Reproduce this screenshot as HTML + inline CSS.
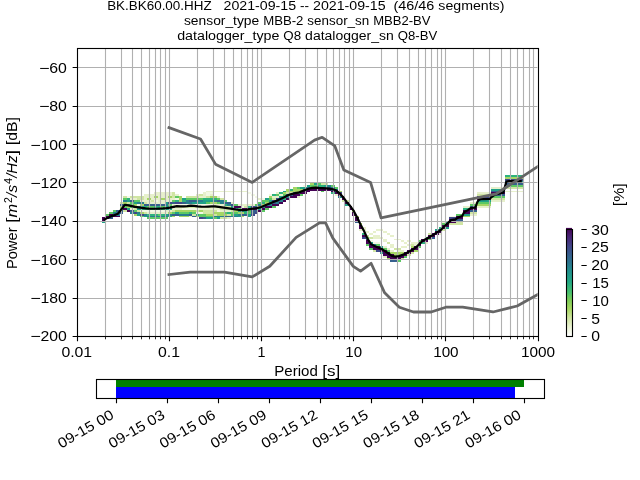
<!DOCTYPE html>
<html><head><meta charset="utf-8"><title>PPSD BK.BK60.00.HHZ</title>
<style>
html,body{margin:0;padding:0;background:#fff;overflow:hidden}
svg{display:block;will-change:transform}
text{font-family:"Liberation Sans",sans-serif;fill:#000}
</style></head><body>
<svg width="640" height="480" viewBox="0 0 640 480">
<rect width="640" height="480" fill="#fff"/>
<defs><linearGradient id="cbg" x1="0" y1="1" x2="0" y2="0"><stop offset="0.0000" stop-color="#ffffff"/><stop offset="0.0830" stop-color="#eaf2d2"/><stop offset="0.1667" stop-color="#cfe4a0"/><stop offset="0.2500" stop-color="#a8d863"/><stop offset="0.3330" stop-color="#7ccc57"/><stop offset="0.4000" stop-color="#4ac16d"/><stop offset="0.5000" stop-color="#22a884"/><stop offset="0.6000" stop-color="#21908d"/><stop offset="0.6670" stop-color="#2a788e"/><stop offset="0.7500" stop-color="#355f8d"/><stop offset="0.8330" stop-color="#414487"/><stop offset="0.9170" stop-color="#482475"/><stop offset="1.0000" stop-color="#440154"/></linearGradient><clipPath id="axclip"><rect x="76.8" y="48.0" width="460.8" height="288.0"/></clipPath></defs>
<g clip-path="url(#axclip)">
<g shape-rendering="crispEdges">
<path fill="#f3f8e4" d="M127 196h3v2h-3zM255 196h3v2h-3zM137 204h3v2h-3zM175 204h38v2h-38zM140 210h25v2h-25zM217 210h3v2h-3zM154 200h4v2h-4zM175 198h4v2h-4zM262 198h3v2h-3zM182 208h17v2h-17zM196 212h7v2h-7zM206 192h7v2h-7zM248 192h3v2h-3zM206 194h4v2h-4zM251 194h4v2h-4zM269 194h3v2h-3zM241 206h3v2h-3zM303 185h4v2h-4zM369 240h4v2h-4zM373 242h7v2h-7zM449 216h7v1h-7z"/>
<path fill="#e7f0cc" d="M130 198h7v2h-7zM144 198h3v2h-3zM151 198h10v2h-10zM165 198h10v2h-10zM258 198h4v2h-4zM130 208h4v2h-4zM172 208h10v2h-10zM199 208h21v2h-21zM140 200h11v2h-11zM158 200h14v2h-14zM491 200h14v2h-14zM144 194h28v2h-28zM175 194h4v2h-4zM196 194h3v2h-3zM203 194h3v2h-3zM210 194h3v2h-3zM279 194h4v2h-4zM335 194h3v2h-3zM144 196h10v2h-10zM158 196h10v2h-10zM199 196h7v2h-7zM217 196h3v2h-3zM272 196h7v2h-7zM297 196h3v2h-3zM147 202h18v2h-18zM231 202h3v2h-3zM470 202h7v2h-7zM147 212h21v2h-21zM154 192h18v2h-18zM203 192h3v2h-3zM276 192h3v2h-3zM477 192h14v2h-14zM165 210h7v2h-7zM220 210h11v2h-11zM172 204h3v2h-3zM213 204h11v2h-11zM238 204h17v2h-17zM189 216h3v1h-3zM206 191h42v1h-42zM505 191h18v1h-18zM227 217h4v2h-4zM359 229h7v2h-7zM376 229h7v2h-7zM362 227h4v2h-4zM366 231h3v2h-3zM373 231h3v2h-3zM383 231h4v2h-4zM369 233h4v2h-4zM387 233h3v2h-3zM439 233h3v2h-3zM373 235h7v2h-7zM390 235h4v2h-4zM373 237h10v2h-10zM383 239h4v1h-4zM394 239h7v1h-7zM383 240h4v2h-4zM401 240h3v2h-3zM407 240h4v2h-4zM383 246h4v2h-4zM390 246h4v2h-4zM401 246h6v2h-6zM383 256h4v2h-4zM387 248h3v2h-3zM390 244h4v2h-4zM407 244h4v2h-4zM414 244h4v2h-4zM390 250h4v2h-4zM397 250h7v2h-7zM404 242h3v2h-3zM411 242h7v2h-7zM425 242h3v2h-3zM442 221h4v2h-4zM463 206h7v2h-7zM477 206h14v2h-14zM470 214h7v2h-7zM491 187h14v2h-14z"/>
<path fill="#d0e5a3" d="M120 202h3v2h-3zM127 202h3v2h-3zM144 202h3v2h-3zM123 196h4v2h-4zM130 196h14v2h-14zM172 196h3v2h-3zM186 196h13v2h-13zM206 196h4v2h-4zM123 210h4v2h-4zM137 210h3v2h-3zM172 210h3v2h-3zM196 210h3v2h-3zM203 210h14v2h-14zM231 210h3v2h-3zM134 208h3v2h-3zM220 208h11v2h-11zM137 198h7v2h-7zM220 198h4v2h-4zM272 198h4v2h-4zM491 198h14v2h-14zM144 212h3v2h-3zM203 212h10v2h-10zM470 212h7v2h-7zM151 200h3v2h-3zM342 200h7v2h-7zM172 192h3v2h-3zM286 192h7v2h-7zM172 194h3v2h-3zM199 194h4v2h-4zM477 194h14v2h-14zM175 206h56v2h-56zM244 206h4v2h-4zM192 214h4v2h-4zM213 214h4v2h-4zM227 214h4v2h-4zM220 217h7v2h-7zM321 183h7v2h-7zM366 235h3v2h-3zM369 237h4v2h-4zM373 250h3v2h-3zM387 242h3v2h-3zM394 248h7v2h-7zM401 258h3v2h-3zM407 254h4v2h-4zM411 244h3v2h-3zM411 252h3v2h-3zM428 233h4v2h-4zM442 229h4v2h-4zM449 223h14v2h-14zM456 221h7v2h-7zM505 187h18v2h-18z"/>
<path fill="#a6d665" d="M120 206h3v2h-3zM127 206h3v2h-3zM258 206h4v2h-4zM123 202h4v2h-4zM210 202h7v2h-7zM265 202h4v2h-4zM134 204h3v2h-3zM140 204h4v2h-4zM262 204h3v2h-3zM477 204h14v2h-14zM134 214h3v2h-3zM206 214h7v2h-7zM217 214h10v2h-10zM140 212h4v2h-4zM168 212h4v2h-4zM213 212h11v2h-11zM238 212h6v2h-6zM147 198h4v2h-4zM161 198h4v2h-4zM179 198h3v2h-3zM154 196h4v2h-4zM168 196h4v2h-4zM179 196h3v2h-3zM210 196h7v2h-7zM269 196h3v2h-3zM172 216h3v1h-3zM179 216h10v1h-10zM196 216h3v1h-3zM241 216h3v1h-3zM355 216h4v1h-4zM463 216h7v1h-7zM175 210h21v2h-21zM199 210h4v2h-4zM234 210h4v2h-4zM352 210h3v2h-3zM179 200h3v2h-3zM283 192h3v2h-3zM286 189h4v2h-4zM293 189h10v2h-10zM286 191h14v1h-14zM338 191h4v1h-4zM293 187h4v2h-4zM310 183h4v2h-4zM359 223h3v2h-3zM387 258h3v2h-3zM390 252h14v2h-14zM394 254h7v2h-7zM411 246h3v2h-3zM414 250h4v2h-4zM505 177h18v2h-18z"/>
<path fill="#5cc863" d="M106 214h3v2h-3zM158 214h3v2h-3zM199 214h7v2h-7zM231 214h3v2h-3zM456 214h7v2h-7zM109 212h4v2h-4zM172 212h3v2h-3zM179 212h10v2h-10zM192 212h4v2h-4zM224 212h3v2h-3zM231 212h7v2h-7zM248 212h3v2h-3zM113 210h3v2h-3zM134 210h3v2h-3zM248 210h3v2h-3zM262 210h3v2h-3zM120 208h3v2h-3zM231 208h3v2h-3zM238 208h3v2h-3zM265 208h4v2h-4zM123 198h4v2h-4zM186 198h17v2h-17zM217 198h3v2h-3zM269 198h3v2h-3zM123 206h4v2h-4zM130 206h4v2h-4zM147 206h7v2h-7zM161 206h4v2h-4zM272 206h4v2h-4zM130 202h4v2h-4zM206 202h4v2h-4zM217 202h3v2h-3zM258 202h4v2h-4zM477 202h14v2h-14zM130 204h4v2h-4zM168 204h4v2h-4zM234 204h4v2h-4zM255 204h3v2h-3zM470 204h7v2h-7zM134 200h6v2h-6zM172 200h3v2h-3zM224 200h3v2h-3zM262 200h7v2h-7zM140 216h4v1h-4zM199 216h14v1h-14zM147 217h21v2h-21zM213 217h4v2h-4zM175 196h4v2h-4zM491 196h14v2h-14zM276 194h3v2h-3zM283 194h3v2h-3zM300 194h3v2h-3zM297 187h3v2h-3zM335 187h3v2h-3zM310 185h7v2h-7zM331 185h4v2h-4zM505 185h18v2h-18zM317 183h4v2h-4zM321 191h3v1h-3zM366 237h3v2h-3zM366 244h3v2h-3zM376 244h4v2h-4zM369 248h4v2h-4zM383 248h4v2h-4zM387 250h3v2h-3zM397 260h4v2h-4zM404 256h3v2h-3zM418 240h3v2h-3zM418 246h3v2h-3zM428 239h4v1h-4zM442 223h4v2h-4z"/>
<path fill="#2db27d" d="M127 198h3v2h-3zM203 198h14v2h-14zM283 198h3v2h-3zM144 206h3v2h-3zM154 206h7v2h-7zM248 206h3v2h-3zM144 208h21v2h-21zM463 208h7v2h-7zM147 214h11v2h-11zM161 214h4v2h-4zM168 216h4v1h-4zM175 200h4v2h-4zM182 200h4v2h-4zM189 212h3v2h-3zM227 212h4v2h-4zM244 212h4v2h-4zM224 204h3v2h-3zM262 202h3v2h-3zM272 194h4v2h-4zM279 192h4v2h-4zM331 192h4v2h-4zM290 189h3v2h-3zM317 185h7v2h-7zM362 233h4v2h-4zM421 242h4v2h-4zM425 237h3v2h-3zM439 227h3v2h-3zM505 175h18v2h-18z"/>
<path fill="#1fa187" d="M102 221h4v2h-4zM446 221h3v2h-3zM127 200h3v2h-3zM203 200h10v2h-10zM269 200h3v2h-3zM477 200h14v2h-14zM127 204h3v2h-3zM345 204h4v2h-4zM127 208h3v2h-3zM137 208h7v2h-7zM165 208h7v2h-7zM258 208h4v2h-4zM134 202h3v2h-3zM165 202h3v2h-3zM192 202h14v2h-14zM137 206h7v2h-7zM165 206h10v2h-10zM231 206h3v2h-3zM137 214h3v2h-3zM165 214h3v2h-3zM196 214h3v2h-3zM234 214h4v2h-4zM248 214h3v2h-3zM463 214h7v2h-7zM144 216h3v1h-3zM238 216h3v1h-3zM248 216h3v1h-3zM175 212h4v2h-4zM182 198h4v2h-4zM265 198h4v2h-4zM206 217h7v2h-7zM217 217h3v2h-3zM238 210h10v2h-10zM279 196h4v2h-4zM283 191h3v1h-3zM300 187h7v2h-7zM307 185h3v2h-3zM324 185h4v2h-4zM314 183h3v2h-3zM369 242h4v2h-4zM380 246h3v2h-3zM380 252h3v2h-3zM435 229h4v2h-4zM446 227h3v2h-3zM491 189h14v2h-14zM505 181h18v2h-18z"/>
<path fill="#277f8e" d="M113 212h7v2h-7zM130 212h4v2h-4zM137 212h3v2h-3zM113 214h7v2h-7zM144 214h3v2h-3zM168 214h4v2h-4zM179 214h10v2h-10zM238 214h3v2h-3zM123 200h4v2h-4zM186 200h3v2h-3zM196 200h7v2h-7zM213 200h4v2h-4zM220 200h4v2h-4zM279 200h4v2h-4zM123 204h4v2h-4zM165 204h3v2h-3zM227 204h4v2h-4zM258 204h4v2h-4zM265 204h7v2h-7zM134 206h3v2h-3zM262 206h3v2h-3zM137 202h7v2h-7zM186 202h6v2h-6zM220 202h4v2h-4zM269 202h3v2h-3zM276 202h3v2h-3zM147 216h21v1h-21zM213 216h11v1h-11zM231 216h7v1h-7zM234 208h4v2h-4zM286 196h4v2h-4zM338 196h4v2h-4zM328 185h3v2h-3zM331 187h4v2h-4zM335 189h3v2h-3zM373 244h3v2h-3z"/>
<path fill="#355f8d" d="M109 217h4v2h-4zM203 217h3v2h-3zM116 210h7v2h-7zM130 210h4v2h-4zM251 210h7v2h-7zM470 210h7v2h-7zM120 204h3v2h-3zM144 204h21v2h-21zM120 212h3v2h-3zM251 212h4v2h-4zM130 200h4v2h-4zM189 200h7v2h-7zM217 200h3v2h-3zM276 200h3v2h-3zM172 202h3v2h-3zM182 202h4v2h-4zM224 202h7v2h-7zM272 202h4v2h-4zM172 214h7v2h-7zM189 214h3v2h-3zM241 214h7v2h-7zM192 216h4v1h-4zM224 216h7v1h-7zM255 206h3v2h-3zM470 206h7v2h-7zM279 198h4v2h-4zM283 196h3v2h-3zM286 194h7v2h-7zM491 194h14v2h-14zM293 192h7v2h-7zM300 191h3v1h-3zM335 191h3v1h-3zM491 191h14v1h-14zM303 189h4v2h-4zM331 189h4v2h-4zM307 187h24v2h-24zM355 221h4v2h-4zM366 239h3v1h-3zM390 260h7v2h-7zM432 237h3v2h-3zM456 219h7v2h-7zM505 183h18v2h-18z"/>
<path fill="#3f4889" d="M134 212h3v2h-3zM255 212h3v2h-3zM140 214h4v2h-4zM251 214h4v2h-4zM168 202h4v2h-4zM175 202h7v2h-7zM199 217h4v2h-4zM449 217h7v2h-7zM231 204h3v2h-3zM251 206h4v2h-4zM272 200h4v2h-4zM276 198h3v2h-3zM338 192h4v2h-4zM362 237h4v2h-4zM376 250h4v2h-4zM477 196h14v2h-14zM505 179h18v2h-18z"/>
<path fill="#440154" d="M102 217h7v2h-7zM355 217h4v2h-4zM456 217h7v2h-7zM102 219h4v2h-4zM355 219h4v2h-4zM449 219h7v2h-7zM106 216h14v1h-14zM456 216h7v1h-7zM109 214h4v2h-4zM352 214h3v2h-3zM123 208h4v2h-4zM241 208h17v2h-17zM262 208h3v2h-3zM349 208h3v2h-3zM470 208h7v2h-7zM127 210h3v2h-3zM258 210h4v2h-4zM463 210h7v2h-7zM234 206h7v2h-7zM265 206h7v2h-7zM349 206h3v2h-3zM272 204h7v2h-7zM279 202h4v2h-4zM345 202h4v2h-4zM283 200h3v2h-3zM286 198h4v2h-4zM342 198h3v2h-3zM477 198h14v2h-14zM290 196h7v2h-7zM342 196h3v2h-3zM293 194h7v2h-7zM338 194h4v2h-4zM300 192h7v2h-7zM335 192h3v2h-3zM491 192h14v2h-14zM303 191h7v1h-7zM331 191h4v1h-4zM307 189h24v2h-24zM352 212h3v2h-3zM463 212h7v2h-7zM359 225h3v2h-3zM442 225h7v2h-7zM359 227h3v2h-3zM442 227h4v2h-4zM362 235h4v2h-4zM428 235h7v2h-7zM366 240h3v2h-3zM421 240h7v2h-7zM366 242h3v2h-3zM418 242h3v2h-3zM369 244h4v2h-4zM418 244h3v2h-3zM369 246h11v2h-11zM414 246h4v2h-4zM373 248h10v2h-10zM411 248h7v2h-7zM380 250h7v2h-7zM407 250h7v2h-7zM383 252h7v2h-7zM404 252h7v2h-7zM383 254h11v2h-11zM401 254h6v2h-6zM387 256h17v2h-17zM390 258h11v2h-11zM421 239h7v1h-7zM428 237h4v2h-4zM432 233h7v2h-7zM435 231h7v2h-7zM439 229h3v2h-3zM446 223h3v2h-3zM449 221h7v2h-7z"/>
</g>
<path d="M105.5 48.0V336.0M121.5 48.0V336.0M132.5 48.0V336.0M141.5 48.0V336.0M149.5 48.0V336.0M155.5 48.0V336.0M160.5 48.0V336.0M165.5 48.0V336.0M169.5 48.0V336.0M197.5 48.0V336.0M213.5 48.0V336.0M224.5 48.0V336.0M233.5 48.0V336.0M241.5 48.0V336.0M247.5 48.0V336.0M252.5 48.0V336.0M257.5 48.0V336.0M261.5 48.0V336.0M289.5 48.0V336.0M305.5 48.0V336.0M317.5 48.0V336.0M326.5 48.0V336.0M333.5 48.0V336.0M339.5 48.0V336.0M344.5 48.0V336.0M349.5 48.0V336.0M353.5 48.0V336.0M381.5 48.0V336.0M397.5 48.0V336.0M409.5 48.0V336.0M418.5 48.0V336.0M425.5 48.0V336.0M431.5 48.0V336.0M437.5 48.0V336.0M441.5 48.0V336.0M445.5 48.0V336.0M473.5 48.0V336.0M489.5 48.0V336.0M501.5 48.0V336.0M510.5 48.0V336.0M517.5 48.0V336.0M523.5 48.0V336.0M529.5 48.0V336.0M533.5 48.0V336.0M76.8 298.5H537.6M76.8 259.5H537.6M76.8 221.5H537.6M76.8 182.5H537.6M76.8 144.5H537.6M76.8 106.5H537.6M76.8 67.5H537.6" stroke="#b0b0b0" stroke-width="1.11" fill="none"/>
<polyline points="104.54,219.45 107.50,217.90 110.97,216.30 114.44,215.10 117.91,213.80 121.37,209.40 124.84,204.75 128.31,205.40 131.78,206.10 135.25,206.90 138.71,207.30 142.18,207.90 145.65,208.30 149.12,208.60 152.59,208.75 156.05,208.75 159.52,208.60 162.99,208.40 166.46,208.10 169.93,207.60 173.39,206.85 176.86,206.20 180.33,206.40 183.80,206.40 187.27,206.10 190.73,205.60 194.20,205.90 197.67,206.40 201.14,206.70 204.61,206.75 208.07,206.60 211.54,206.45 215.01,206.40 218.48,206.90 221.95,207.40 225.41,207.90 228.88,208.40 232.35,208.90 235.82,209.50 239.29,210.00 242.75,210.06 246.22,209.80 249.69,209.10 253.16,208.60 256.63,208.20 260.09,207.40 263.56,206.00 267.03,204.60 270.50,203.20 273.97,201.80 277.43,200.40 280.90,198.80 284.37,197.20 287.84,195.20 291.31,194.10 294.77,193.20 298.24,192.70 301.71,191.30 305.18,190.00 308.65,188.70 312.11,187.90 315.58,187.60 319.05,187.95 322.52,188.10 325.99,188.40 329.45,188.70 332.92,189.30 336.39,190.60 339.86,193.60 343.33,197.40 346.79,202.20 350.26,206.10 353.73,210.90 357.20,217.50 360.67,224.70 364.13,231.20 367.60,238.90 371.07,244.10 374.54,246.00 378.01,247.40 381.47,249.00 384.94,251.10 388.41,253.50 391.88,255.90 395.35,256.60 398.81,256.10 402.28,255.00 405.75,253.40 409.22,251.50 412.69,249.50 416.15,247.30 419.62,243.80 423.09,240.50 426.56,238.80 430.03,236.60 433.49,234.70 436.96,232.40 440.43,230.40 443.90,226.80 447.37,223.60 451.00,220.10 455.40,219.40 458.50,217.25 462.25,216.00 464.10,212.25 467.90,210.10 471.00,207.90 475.40,207.60 477.25,202.25 478.50,200.20 480.25,199.20 489.60,199.00 491.50,197.00 494.60,194.80 500.90,193.30 503.30,192.60 506.40,181.60 509.00,181.20 520.70,181.20" stroke="#000" stroke-width="2.2" fill="none" stroke-linejoin="round" stroke-linecap="square"/>
<polyline points="168.96,274.56 190.20,272.06 224.45,272.06 252.19,276.86 269.73,266.30 296.16,237.41 319.50,222.91 325.54,222.91 332.83,238.08 353.28,266.40 360.58,271.20 371.08,263.29 384.66,292.80 399.33,307.20 413.48,312.00 431.16,312.00 445.84,307.20 462.72,307.20 492.98,311.98 517.15,306.01 537.60,294.68" stroke="#666666" stroke-width="2.78" fill="none" stroke-linejoin="round" stroke-linecap="square"/>
<polyline points="168.96,127.68 200.52,139.01 215.51,164.16 252.19,182.40 314.55,140.16 322.20,137.28 334.79,145.92 343.85,169.92 370.56,182.40 381.02,217.92 496.13,193.92 537.60,166.60" stroke="#666666" stroke-width="2.78" fill="none" stroke-linejoin="round" stroke-linecap="square"/>
</g>
<path d="M77.5 336.5v4.86M169.5 336.5v4.86M261.5 336.5v4.86M353.5 336.5v4.86M445.5 336.5v4.86M538.5 336.5v4.86M77.5 336.5h-4.86M77.5 298.5h-4.86M77.5 259.5h-4.86M77.5 221.5h-4.86M77.5 182.5h-4.86M77.5 144.5h-4.86M77.5 106.5h-4.86M77.5 67.5h-4.86" stroke="#000" stroke-width="1.11" fill="none"/>
<path d="M105.5 336.5v2.78M121.5 336.5v2.78M132.5 336.5v2.78M141.5 336.5v2.78M149.5 336.5v2.78M155.5 336.5v2.78M160.5 336.5v2.78M165.5 336.5v2.78M197.5 336.5v2.78M213.5 336.5v2.78M224.5 336.5v2.78M233.5 336.5v2.78M241.5 336.5v2.78M247.5 336.5v2.78M252.5 336.5v2.78M257.5 336.5v2.78M289.5 336.5v2.78M305.5 336.5v2.78M317.5 336.5v2.78M326.5 336.5v2.78M333.5 336.5v2.78M339.5 336.5v2.78M344.5 336.5v2.78M349.5 336.5v2.78M381.5 336.5v2.78M397.5 336.5v2.78M409.5 336.5v2.78M418.5 336.5v2.78M425.5 336.5v2.78M431.5 336.5v2.78M437.5 336.5v2.78M441.5 336.5v2.78M473.5 336.5v2.78M489.5 336.5v2.78M501.5 336.5v2.78M510.5 336.5v2.78M517.5 336.5v2.78M523.5 336.5v2.78M529.5 336.5v2.78M533.5 336.5v2.78" stroke="#000" stroke-width="0.83" fill="none"/>
<rect x="77.5" y="48.5" width="461.0" height="288.0" fill="none" stroke="#000" stroke-width="1.11"/>
<text y="356.72" font-size="14.31"><tspan x="61.42" textLength="30.75" lengthAdjust="spacingAndGlyphs">0.01</tspan></text>
<text y="356.72" font-size="14.31"><tspan x="157.96" textLength="22.00" lengthAdjust="spacingAndGlyphs">0.1</tspan></text>
<text y="356.72" font-size="14.31"><tspan x="257.58" textLength="7.98" lengthAdjust="spacingAndGlyphs">1</tspan></text>
<text y="356.72" font-size="14.31"><tspan x="345.37" textLength="16.72" lengthAdjust="spacingAndGlyphs">10</tspan></text>
<text y="356.72" font-size="14.31"><tspan x="433.15" textLength="25.48" lengthAdjust="spacingAndGlyphs">100</tspan></text>
<text y="356.72" font-size="14.31"><tspan x="520.94" textLength="34.22" lengthAdjust="spacingAndGlyphs">1000</tspan></text>
<text y="340.70" font-size="14.31"><tspan x="30.32" textLength="10.44" lengthAdjust="spacingAndGlyphs">−</tspan><tspan x="40.41" textLength="26.37" lengthAdjust="spacingAndGlyphs">200</tspan></text>
<text y="302.70" font-size="14.31"><tspan x="30.32" textLength="10.44" lengthAdjust="spacingAndGlyphs">−</tspan><tspan x="40.41" textLength="26.37" lengthAdjust="spacingAndGlyphs">180</tspan></text>
<text y="264.70" font-size="14.31"><tspan x="30.32" textLength="10.44" lengthAdjust="spacingAndGlyphs">−</tspan><tspan x="40.41" textLength="26.37" lengthAdjust="spacingAndGlyphs">160</tspan></text>
<text y="225.70" font-size="14.31"><tspan x="30.32" textLength="10.44" lengthAdjust="spacingAndGlyphs">−</tspan><tspan x="40.41" textLength="26.37" lengthAdjust="spacingAndGlyphs">140</tspan></text>
<text y="187.70" font-size="14.31"><tspan x="30.32" textLength="10.44" lengthAdjust="spacingAndGlyphs">−</tspan><tspan x="40.41" textLength="26.37" lengthAdjust="spacingAndGlyphs">120</tspan></text>
<text y="149.70" font-size="14.31"><tspan x="30.32" textLength="10.44" lengthAdjust="spacingAndGlyphs">−</tspan><tspan x="40.41" textLength="26.37" lengthAdjust="spacingAndGlyphs">100</tspan></text>
<text y="110.70" font-size="14.31"><tspan x="39.03" textLength="10.47" lengthAdjust="spacingAndGlyphs">−</tspan><tspan x="49.15" textLength="17.64" lengthAdjust="spacingAndGlyphs">80</tspan></text>
<text y="72.70" font-size="14.31"><tspan x="39.03" textLength="10.47" lengthAdjust="spacingAndGlyphs">−</tspan><tspan x="49.15" textLength="17.64" lengthAdjust="spacingAndGlyphs">60</tspan></text>
<text y="376.28" font-size="14.31"><tspan x="274.26" textLength="43.54" lengthAdjust="spacingAndGlyphs">Period</tspan> <tspan x="322.18" textLength="17.97" lengthAdjust="spacingAndGlyphs">[s]</tspan></text>
<text y="9.67" font-size="12.88"><tspan x="107.17" textLength="104.48" lengthAdjust="spacingAndGlyphs">BK.BK60.00.HHZ</tspan> <tspan x="223.56" textLength="72.53" lengthAdjust="spacingAndGlyphs">2021-09-15</tspan> <tspan x="300.06" textLength="9.01" lengthAdjust="spacingAndGlyphs">--</tspan> <tspan x="313.03" textLength="72.53" lengthAdjust="spacingAndGlyphs">2021-09-15</tspan> <tspan x="393.50" textLength="40.84" lengthAdjust="spacingAndGlyphs">(46/46</tspan> <tspan x="438.30" textLength="66.12" lengthAdjust="spacingAndGlyphs">segments)</tspan></text>
<text y="24.67" font-size="12.88"><tspan x="183.95" textLength="75.28" lengthAdjust="spacingAndGlyphs">sensor_type</tspan> <tspan x="263.18" textLength="40.23" lengthAdjust="spacingAndGlyphs">MBB-2</tspan> <tspan x="307.36" textLength="61.85" lengthAdjust="spacingAndGlyphs">sensor_sn</tspan> <tspan x="373.17" textLength="57.29" lengthAdjust="spacingAndGlyphs">MBB2-BV</tspan></text>
<text y="39.67" font-size="12.88"><tspan x="177.20" textLength="102.17" lengthAdjust="spacingAndGlyphs">datalogger_type</tspan> <tspan x="283.34" textLength="17.79" lengthAdjust="spacingAndGlyphs">Q8</tspan> <tspan x="305.11" textLength="88.68" lengthAdjust="spacingAndGlyphs">datalogger_sn</tspan> <tspan x="397.76" textLength="39.44" lengthAdjust="spacingAndGlyphs">Q8-BV</tspan></text>
<g transform="translate(16.70,269.08) rotate(-90)">
<text x="0.00" y="0.00" font-size="14.31" textLength="41.60" lengthAdjust="spacingAndGlyphs">Power</text>
<text x="46.00" y="0.00" font-size="14.31" textLength="5.40" lengthAdjust="spacingAndGlyphs">[</text>
<text x="51.60" y="0.00" font-size="14.31" font-style="italic" textLength="13.60" lengthAdjust="spacingAndGlyphs">m</text>
<text x="66.20" y="-5.00" font-size="11.44" textLength="5.80" lengthAdjust="spacingAndGlyphs">2</text>
<text x="72.20" y="0.00" font-size="14.31" font-style="italic" textLength="12.00" lengthAdjust="spacingAndGlyphs">/s</text>
<text x="85.20" y="-5.00" font-size="11.44" textLength="6.20" lengthAdjust="spacingAndGlyphs">4</text>
<text x="91.30" y="0.00" font-size="14.31" font-style="italic" textLength="22.40" lengthAdjust="spacingAndGlyphs">/Hz</text>
<text x="113.80" y="0.00" font-size="14.31" textLength="5.40" lengthAdjust="spacingAndGlyphs">]</text>
<text x="124.00" y="0.00" font-size="14.31" textLength="27.90" lengthAdjust="spacingAndGlyphs">[dB]</text>
</g>
<g shape-rendering="crispEdges">
<rect x="116.36" y="379.20" width="407.27" height="7.68" fill="#008000"/>
<rect x="116.36" y="386.88" width="398.79" height="11.52" fill="#0000ff"/>
</g>
<rect x="96.5" y="379.5" width="448.0" height="19.0" fill="none" stroke="#000" stroke-width="1.11"/>
<text transform="translate(61.17,448.65) rotate(-30)" font-size="14.31"><tspan x="0.00" textLength="40.07" lengthAdjust="spacingAndGlyphs">09-15</tspan> <tspan x="44.46" textLength="17.55" lengthAdjust="spacingAndGlyphs">00</tspan></text>
<text transform="translate(112.08,448.65) rotate(-30)" font-size="14.31"><tspan x="0.00" textLength="40.07" lengthAdjust="spacingAndGlyphs">09-15</tspan> <tspan x="44.46" textLength="17.55" lengthAdjust="spacingAndGlyphs">03</tspan></text>
<text transform="translate(162.99,448.65) rotate(-30)" font-size="14.31"><tspan x="0.00" textLength="40.07" lengthAdjust="spacingAndGlyphs">09-15</tspan> <tspan x="44.46" textLength="17.55" lengthAdjust="spacingAndGlyphs">06</tspan></text>
<text transform="translate(213.90,448.65) rotate(-30)" font-size="14.31"><tspan x="0.00" textLength="40.07" lengthAdjust="spacingAndGlyphs">09-15</tspan> <tspan x="44.46" textLength="17.55" lengthAdjust="spacingAndGlyphs">09</tspan></text>
<text transform="translate(264.81,448.65) rotate(-30)" font-size="14.31"><tspan x="0.00" textLength="40.07" lengthAdjust="spacingAndGlyphs">09-15</tspan> <tspan x="44.46" textLength="17.55" lengthAdjust="spacingAndGlyphs">12</tspan></text>
<text transform="translate(315.72,448.65) rotate(-30)" font-size="14.31"><tspan x="0.00" textLength="40.07" lengthAdjust="spacingAndGlyphs">09-15</tspan> <tspan x="44.46" textLength="17.55" lengthAdjust="spacingAndGlyphs">15</tspan></text>
<text transform="translate(366.62,448.65) rotate(-30)" font-size="14.31"><tspan x="0.00" textLength="40.07" lengthAdjust="spacingAndGlyphs">09-15</tspan> <tspan x="44.46" textLength="17.55" lengthAdjust="spacingAndGlyphs">18</tspan></text>
<text transform="translate(417.53,448.65) rotate(-30)" font-size="14.31"><tspan x="0.00" textLength="40.07" lengthAdjust="spacingAndGlyphs">09-15</tspan> <tspan x="44.46" textLength="17.55" lengthAdjust="spacingAndGlyphs">21</tspan></text>
<text transform="translate(468.44,448.65) rotate(-30)" font-size="14.31"><tspan x="0.00" textLength="40.07" lengthAdjust="spacingAndGlyphs">09-16</tspan> <tspan x="44.46" textLength="17.55" lengthAdjust="spacingAndGlyphs">00</tspan></text>
<path d="M116.5 398.5v4.86M167.5 398.5v4.86M218.5 398.5v4.86M269.5 398.5v4.86M320.5 398.5v4.86M371.5 398.5v4.86M422.5 398.5v4.86M473.5 398.5v4.86M524.5 398.5v4.86" stroke="#000" stroke-width="1.11" fill="none"/>
<rect x="566.00" y="227.90" width="6.00" height="108.10" fill="url(#cbg)"/>
<rect x="566.5" y="229.5" width="6.0" height="107.0" fill="none" stroke="#000" stroke-width="1.11"/>
<text y="341.40" font-size="14.31"><tspan x="591.30" textLength="8.75" lengthAdjust="spacingAndGlyphs">0</tspan></text>
<text y="323.60" font-size="14.31"><tspan x="591.30" textLength="8.75" lengthAdjust="spacingAndGlyphs">5</tspan></text>
<text y="305.80" font-size="14.31"><tspan x="592.20" textLength="16.70" lengthAdjust="spacingAndGlyphs">10</tspan></text>
<text y="288.00" font-size="14.31"><tspan x="592.20" textLength="16.70" lengthAdjust="spacingAndGlyphs">15</tspan></text>
<text y="270.20" font-size="14.31"><tspan x="591.30" textLength="17.60" lengthAdjust="spacingAndGlyphs">20</tspan></text>
<text y="252.40" font-size="14.31"><tspan x="591.30" textLength="17.60" lengthAdjust="spacingAndGlyphs">25</tspan></text>
<text y="234.60" font-size="14.31"><tspan x="591.30" textLength="17.60" lengthAdjust="spacingAndGlyphs">30</tspan></text>
<path d="M581.4 336.5h5.3M581.4 318.5h5.3M581.4 300.5h5.3M581.4 283.5h5.3M581.4 265.5h5.3M581.4 247.5h5.3M581.4 229.5h5.3" stroke="#000" stroke-width="1.11" fill="none"/>
<text transform="translate(624.3,206.2) rotate(-90)" font-size="14.31" textLength="23.0" lengthAdjust="spacingAndGlyphs">[%]</text>
</svg>
</body></html>
